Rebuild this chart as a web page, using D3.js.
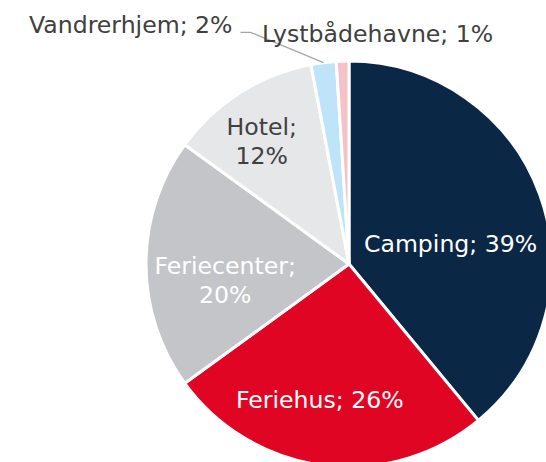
<!DOCTYPE html>
<html>
<head>
<meta charset="utf-8">
<script src="https://cdn.jsdelivr.net/npm/d3@7"></script>
<style>
  html, body { margin: 0; padding: 0; background: #fff; }
  svg { display: block; font-family: "DejaVu Sans", sans-serif; }
</style>
</head>
<body>
<svg id="chart" width="546" height="462"></svg>
<script>
// data
const categories = ["Camping", "Feriehus", "Feriecenter", "Hotel", "Vandrerhjem", "Lystbådehavne"];
const shares = [39, 26, 20, 12, 2, 1];
const colors = ["#0a2746", "#e00522", "#c4c5c8", "#e6e7e9", "#bfe4fa", "#f5c2c8"];
const wrapped = ["Feriecenter", "Hotel"];        // labels on two lines
const outside = ["Vandrerhjem", "Lystbådehavne"]; // labels outside the pie

// label nudges (Excel "best fit" placement), relative to the arc centroid
const nudges = {
  Camping: [-13, 21],
  Feriehus: [-14, 15],
  Feriecenter: [-2, 16],
  Hotel: [-22, -20],
  Vandrerhjem: [-189, -8],
  "Lystbådehavne": [36, 3]
};

const svg = d3.select("#chart");
const cx = 349, cy = 264, r = 203;
const fontSize = 23.6;

const g = svg.append("g").attr("transform", `translate(${cx},${cy})`);

const data = categories.map((c, i) => ({ cat: c, value: shares[i], color: colors[i] }));

const pie = d3.pie().value(d => d.value).sort(null);
const arc = d3.arc().innerRadius(0).outerRadius(r);
const inArc = d3.arc().innerRadius(r * 0.6).outerRadius(r * 0.6);
const outArc = d3.arc().innerRadius(r * 1.15).outerRadius(r * 1.15);
const edgeArc = d3.arc().innerRadius(r).outerRadius(r);

const arcs = pie(data);

g.selectAll("path.slice")
  .data(arcs)
  .enter().append("path")
    .attr("class", "slice")
    .attr("d", arc)
    .attr("fill", d => d.data.color)
    .attr("stroke", "#fff")
    .attr("stroke-width", 3)
    .attr("stroke-linejoin", "round");

// labels
arcs.forEach(a => {
  const cat = a.data.cat;
  const isOut = outside.includes(cat);
  const c = isOut ? outArc.centroid(a) : inArc.centroid(a);
  const [nx, ny] = nudges[cat];
  const x = c[0] + nx, y = c[1] + ny;
  const fill = (isOut || cat === "Hotel") ? "#404040" : "#ffffff";
  const lines = wrapped.includes(cat)
    ? [cat + ";", a.data.value + "%"]
    : [`${cat}; ${a.data.value}%`];
  const lh = 29;

  const t = g.append("text")
    .attr("text-anchor", "middle")
    .attr("font-size", fontSize + "px")
    .attr("fill", fill);

  lines.forEach((ln, i) => {
    t.append("tspan")
      .attr("x", x)
      .attr("y", y + (i - (lines.length - 1) / 2) * lh)
      .attr("dy", "0.36em")
      .text(ln);
  });

  // leader line for the small slice label on the left
  if (cat === "Vandrerhjem") {
    const bb = t.node().getBBox();
    const p0 = edgeArc.centroid(a);
    const yl = y + 8;
    const x1 = bb.x + bb.width + 8;
    g.insert("polyline", "text")
      .attr("points", [[x1, yl], [x1 + 10, yl], p0].map(p => p.join(",")).join(" "))
      .attr("fill", "none")
      .attr("stroke", "#a6a6a6")
      .attr("stroke-width", 1.3);
  }
});
</script>
</body>
</html>
